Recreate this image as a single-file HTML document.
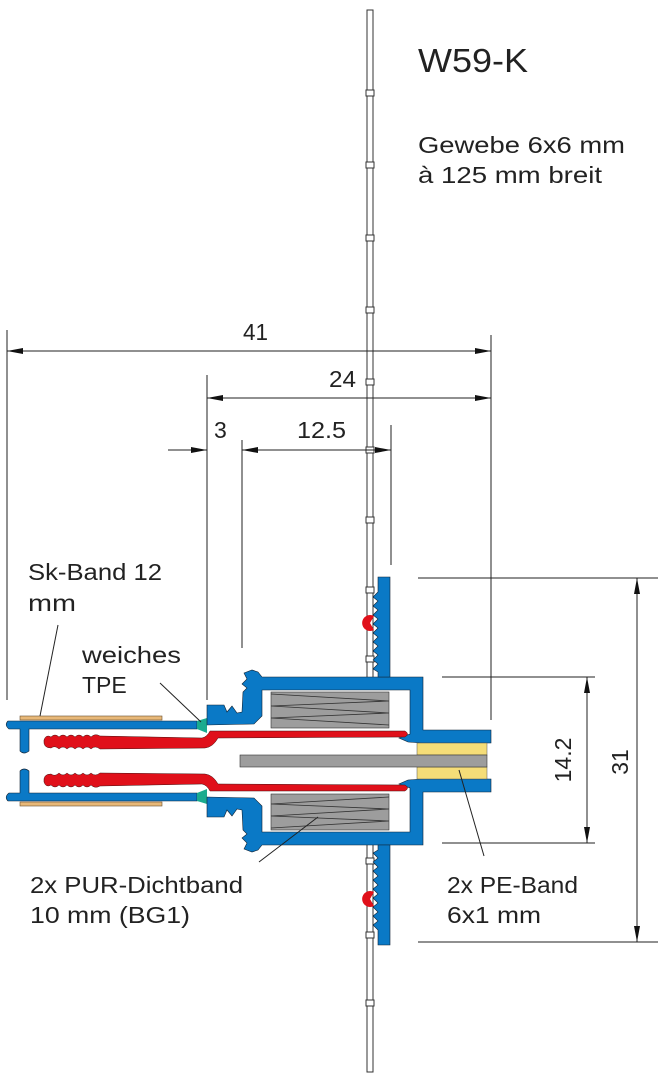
<!DOCTYPE html>
<html><head><meta charset="utf-8"><style>
html,body{margin:0;padding:0;background:#fff;}
svg{display:block;}
text{font-family:"Liberation Sans",sans-serif;fill:#222;}
</style></head><body>
<svg width="662" height="1081" viewBox="0 0 662 1081" xmlns="http://www.w3.org/2000/svg">
<defs>
<marker id="a" viewBox="0 0 16 6" refX="16" refY="3" markerWidth="16" markerHeight="6" markerUnits="userSpaceOnUse" orient="auto-start-reverse"><path d="M0,0 L16,3 L0,6 Z" fill="#111"/></marker>
<g id="half">
  <rect x="20" y="716" width="142" height="4" fill="#e8b878" stroke="#6a5030" stroke-width="0.6"/>
  <path d="M8,721 L197,721 L197,729 L29,729 L29,751 Q24,755 20,751 L20,729 L9,729 Q4,725 8,721 Z" fill="#0a79c6" stroke="#123" stroke-width="0.6"/>
  <path d="M197,721 L207,718 L207,733 L197,729 Z" fill="#1aab8f"/>
  <path d="M207,705 L224,705 L227,712 L232,706 L237,713 L242,712 L243,692 L247,688 L242,684 L247,679 L244,673 L252,670 L258,672 L262,677 L423,677 L423,730 L491,730 L491,743 L422,743 L408,742 L399,738 L410,734 L410,690 L262,690 L262,716 L254,724 L207,725 Z" fill="#0a79c6" stroke="#123" stroke-width="0.6"/>
  <path d="M378,577 L390,577 L390,677 L378,677 L378,672 L373,669 L378,664 L373,660 L378,655 L373,651 L378,646 L373,642 L378,637 L373,633 L378,628 L373,624 L378,619 L373,615 L378,610 L373,606 L378,601 L373,597 L378,592 L378,577 Z" fill="#0a79c6" stroke="#123" stroke-width="0.6"/>
  <path d="M374,616 A8,8 0 1 0 374,630 L370,623 Z" fill="#e0101a"/>
  <rect x="271" y="692" width="118" height="36" fill="#9d9d9d" stroke="#333" stroke-width="0.6"/>
  <path d="M271,694 L389,701 L271,706 L389,713 L271,718 L389,725" fill="none" stroke="#333" stroke-width="0.8"/>
  <path d="M44,740 Q46,734 51,737 Q55,733 59,737 Q63,733 67,737 Q71,733 75,737 Q79,733 83,737 Q87,733 91,737 Q95,733 100,736 L202,738 Q207,737 210,731 L405,731 Q410,734 405,737 L218,738 Q213,747 205,748 L100,749 Q95,745 91,749 Q87,745 83,749 Q79,745 75,749 Q71,745 67,749 Q63,745 59,749 Q55,745 51,748 Q43,748 44,740 Z" fill="#e0101a" stroke="#411" stroke-width="0.5"/>
  <rect x="417" y="743" width="70" height="12" fill="#f5dd78" stroke="#555" stroke-width="0.5"/>
</g>
</defs>
<rect x="367" y="10" width="6" height="1062" fill="#fff" stroke="#333" stroke-width="1"/>
<g fill="#fff" stroke="#333" stroke-width="1">
<rect x="366" y="90" width="8" height="6"/><rect x="366" y="162" width="8" height="6"/><rect x="366" y="235" width="8" height="6"/><rect x="366" y="307" width="8" height="6"/><rect x="366" y="379" width="8" height="6"/><rect x="366" y="447" width="8" height="6"/><rect x="366" y="517" width="8" height="6"/><rect x="366" y="587" width="8" height="6"/><rect x="366" y="656" width="8" height="6"/><rect x="366" y="858" width="8" height="6"/><rect x="366" y="932" width="8" height="6"/><rect x="366" y="1000" width="8" height="6"/>
</g>
<rect x="240" y="688" width="172" height="145" fill="#fff"/>
<use href="#half"/>
<use href="#half" transform="translate(0,1522) scale(1,-1)"/>
<rect x="240" y="755" width="247" height="12" fill="#9d9d9d" stroke="#333" stroke-width="0.6"/>
<g stroke="#222" stroke-width="1" fill="none">
<line x1="7" y1="330" x2="7" y2="700"/>
<line x1="207" y1="375" x2="207" y2="700"/>
<line x1="242" y1="440" x2="242" y2="648"/>
<line x1="391" y1="425" x2="391" y2="565"/>
<line x1="491" y1="335" x2="491" y2="720"/>
<line x1="7" y1="351" x2="491" y2="351" marker-start="url(#a)" marker-end="url(#a)"/>
<line x1="207" y1="398" x2="491" y2="398" marker-start="url(#a)" marker-end="url(#a)"/>
<line x1="168" y1="450" x2="207" y2="450" marker-end="url(#a)"/>
<line x1="242" y1="450" x2="391" y2="450" marker-start="url(#a)" marker-end="url(#a)"/>
<line x1="418" y1="578" x2="658" y2="578"/>
<line x1="418" y1="942" x2="658" y2="942"/>
<line x1="442" y1="677" x2="595" y2="677"/>
<line x1="442" y1="843" x2="595" y2="843"/>
<line x1="637" y1="578" x2="637" y2="942" marker-start="url(#a)" marker-end="url(#a)"/>
<line x1="587" y1="677" x2="587" y2="843" marker-start="url(#a)" marker-end="url(#a)"/>
<line x1="40" y1="716" x2="58" y2="625"/>
<line x1="160" y1="683" x2="201" y2="722"/>
<line x1="259" y1="862" x2="318" y2="817"/>
<line x1="484" y1="856" x2="459" y2="770"/>
</g>
<text x="418" y="72" font-size="33" textLength="110" lengthAdjust="spacingAndGlyphs">W59-K</text>
<text x="418" y="153" font-size="23" textLength="207" lengthAdjust="spacingAndGlyphs">Gewebe 6x6 mm</text>
<text x="418" y="183" font-size="23" textLength="184" lengthAdjust="spacingAndGlyphs">à 125 mm breit</text>
<text x="243" y="340" font-size="23" textLength="25" lengthAdjust="spacingAndGlyphs">41</text>
<text x="329" y="387" font-size="23" textLength="27" lengthAdjust="spacingAndGlyphs">24</text>
<text x="214" y="438" font-size="23">3</text>
<text x="297" y="438" font-size="23" textLength="49" lengthAdjust="spacingAndGlyphs">12.5</text>
<text x="28" y="580" font-size="23" textLength="134" lengthAdjust="spacingAndGlyphs">Sk-Band 12</text>
<text x="28" y="611" font-size="23" textLength="48" lengthAdjust="spacingAndGlyphs">mm</text>
<text x="82" y="663" font-size="23" textLength="99" lengthAdjust="spacingAndGlyphs">weiches</text>
<text x="82" y="693" font-size="23">TPE</text>
<text x="30" y="893" font-size="23" textLength="213" lengthAdjust="spacingAndGlyphs">2x PUR-Dichtband</text>
<text x="30" y="923" font-size="23" textLength="160" lengthAdjust="spacingAndGlyphs">10 mm (BG1)</text>
<text x="447" y="893" font-size="23" textLength="131" lengthAdjust="spacingAndGlyphs">2x PE-Band</text>
<text x="447" y="923" font-size="23" textLength="94" lengthAdjust="spacingAndGlyphs">6x1 mm</text>
<text transform="translate(571,760) rotate(-90)" font-size="23" text-anchor="middle">14.2</text>
<text transform="translate(628,762) rotate(-90)" font-size="23" text-anchor="middle">31</text>
</svg>
</body></html>
